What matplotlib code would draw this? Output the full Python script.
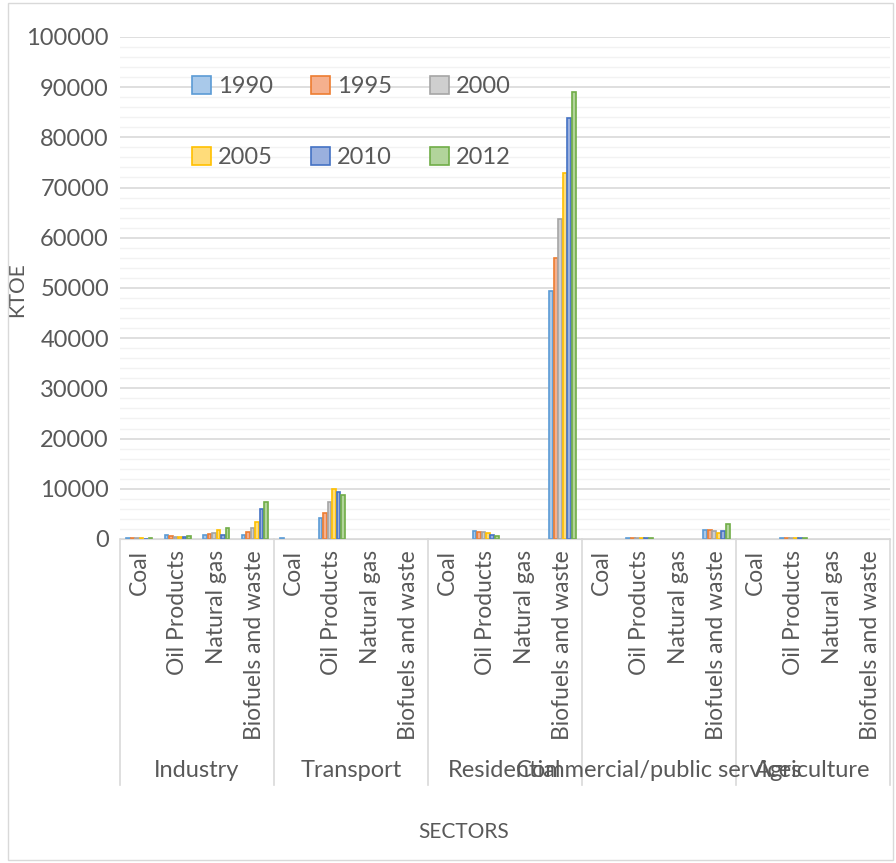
import matplotlib.pyplot as plt
from matplotlib.patches import Rectangle

plt.rcParams['font.family'] = ['Lato', 'DejaVu Sans']

sectors = ["Industry", "Transport", "Residential", "Commercial/public services", "Agriculture"]
fuels = ["Coal", "Oil Products", "Natural gas", "Biofuels and waste"]
years = ["1990", "1995", "2000", "2005", "2010", "2012"]

# KTOE per sector/fuel (rows follow sectors x fuels order), one list per year
v1990 = [150, 700, 800, 700,    100, 4100, 0, 0,   0, 1500, 0, 49300,   0, 100, 0, 1800,   0, 100, 0, 0]
v1995 = [120, 500, 900, 1300,   0, 5100, 0, 0,     0, 1400, 0, 56000,   0, 100, 0, 1700,   0, 100, 0, 0]
v2000 = [100, 300, 1100, 2100,  0, 7400, 0, 0,     0, 1400, 0, 63800,   0, 100, 0, 1500,   0, 100, 0, 0]
v2005 = [100, 300, 1800, 3450,  0, 9900, 0, 0,     0, 1200, 0, 72900,   0, 100, 0, 1100,   0, 100, 0, 0]
v2010 = [80, 300, 700, 6000,    0, 9400, 0, 0,     0, 700, 0, 83800,    0, 100, 0, 1600,   0, 100, 0, 0]
v2012 = [90, 500, 2100, 7400,   0, 8800, 0, 0,     0, 550, 0, 89000,    0, 100, 0, 3000,   0, 100, 0, 0]
values = [v1990, v1995, v2000, v2005, v2010, v2012]

edge_colors = ["#5B9BD5", "#ED7D31", "#A5A5A5", "#FFC000", "#4472C4", "#70AD47"]
fill_colors = ["#A9C9EA", "#F5B08E", "#CFCFCF", "#FFDC7A", "#9AB0DE", "#B2D49B"]

txt = "#595959"
fig = plt.figure(figsize=(8.96, 8.63), dpi=100)
ax = fig.add_axes([0.134, 0.3755, 0.859, 0.5817])

n = len(years)
bw = 0.7 / n
xs = range(len(sectors) * len(fuels))
handles = []
for i, yr in enumerate(years):
    pos = [x - 0.35 + bw * (i + 0.5) for x in xs]
    lws = [1.2 if v > 0 else 0 for v in values[i]]
    b = ax.bar(pos, values[i], width=bw * 0.85, color=fill_colors[i],
               edgecolor=edge_colors[i], linewidth=lws, label=yr, zorder=3)
    handles.append(b)

ax.set_xlim(-0.5, len(xs) - 0.5)
ax.set_ylim(0, 100000)
ax.set_yticks(range(0, 100001, 10000))
ax.set_yticks(range(0, 100001, 2000), minor=True)
ax.grid(axis='y', which='major', color='#D9D9D9', linewidth=1.2, zorder=0)
ax.grid(axis='y', which='minor', color='#F2F2F2', linewidth=1.0, zorder=0)
ax.tick_params(axis='y', which='both', length=0, labelsize=17, labelcolor=txt, pad=8)
for s in ['top', 'right', 'left']:
    ax.spines[s].set_visible(False)
ax.spines['bottom'].set_color('#D9D9D9')
ax.spines['bottom'].set_zorder(4)

ax.set_xticks(list(xs))
ax.set_xticklabels(fuels * len(sectors), rotation=90, fontsize=16.5, color=txt)
ax.tick_params(axis='x', length=0, pad=8)

trans = ax.get_xaxis_transform()
for k in range(len(sectors) + 1):
    xb = k * len(fuels) - 0.5
    ax.plot([xb, xb], [0, -0.49], transform=trans, color='#D9D9D9',
            linewidth=1.2, clip_on=False)
for k, name in enumerate(sectors):
    xc = k * len(fuels) + (len(fuels) - 1) / 2
    ax.text(xc, -0.462, name, transform=trans, ha='center', va='center',
            fontsize=17, color=txt)

ax.set_ylabel("KTOE", fontsize=15, color=txt)
ax.yaxis.set_label_coords(-0.121, 0.496)
fig.text(0.517, 0.036, "SECTORS", ha='center', va='center', fontsize=15, color=txt)

# legend filled row by row: matplotlib fills columns, so reorder
order = [0, 3, 1, 4, 2, 5]
ax.legend([handles[i] for i in order], [years[i] for i in order],
          ncol=3, loc='upper left', bbox_to_anchor=(0.066, 0.965),
          frameon=False, fontsize=17, labelcolor=txt, handlelength=0.8,
          handleheight=0.8, columnspacing=1.6, labelspacing=2.1,
          handletextpad=0.3)

fig.patches.append(Rectangle((0.009, 0.003), 0.988, 0.994, transform=fig.transFigure,
                             fill=False, edgecolor='#D9D9D9', linewidth=1))

fig.savefig("out.png", dpi=100)
